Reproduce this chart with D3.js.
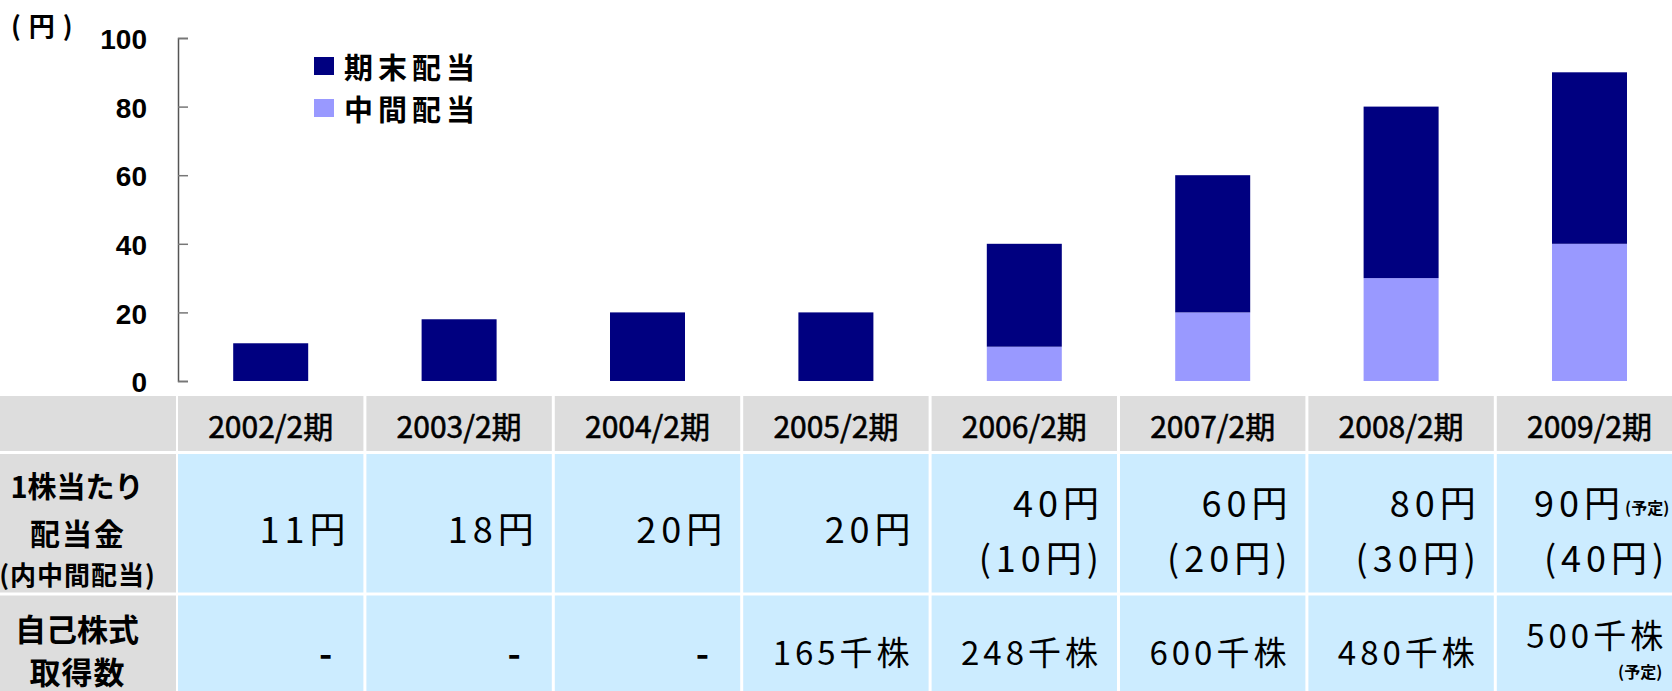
<!DOCTYPE html>
<html><head><meta charset="utf-8">
<script src="https://cdn.jsdelivr.net/npm/d3@7"></script>
<style>
html,body{margin:0;padding:0;background:#fff;overflow:hidden}
text{font-family:"Noto Sans CJK JP","Noto Sans",sans-serif;fill:#000}
</style></head>
<body>
<script>
// ---- data ----
const periods = ["2002/2期","2003/2期","2004/2期","2005/2期","2006/2期","2007/2期","2008/2期","2009/2期"];
const interimDividend = [0,0,0,0,10,20,30,40];
const yearEndDividend = [11,18,20,20,30,40,50,50];
const seriesNames = ["期末配当","中間配当"];
const yTicks = [0,20,40,60,80,100];
const unitLabel = "(円)";
const totalLabels = ["11円","18円","20円","20円","40円","60円","80円","90円"];
const interimLabels = ["","","","","(10円)","(20円)","(30円)","(40円)"];
const buybackLabels = ["-","-","-","165千株","248千株","600千株","480千株","500千株"];
const plannedFlags = [false,false,false,false,false,false,false,true];
const plannedNote = "(予定)";
const dividendRowLabel = ["1株当たり","配当金","(内中間配当)"];
const buybackRowLabel = ["自己株式","取得数"];

// ---- layout ----
const W = 1672, H = 691;
const colors = {yearEnd:"#000080", interim:"#9999FF", header:"#DDDDDD", cell:"#CCECFF"};
const svg = d3.select("body").append("svg").attr("width", W).attr("height", H);

const x = d3.scaleBand().domain(periods).range([178, 178 + 188.4 * periods.length]);
const y = d3.scaleLinear().domain([0, 100]).range([381, 38]);
const barW = 75;
const gap = 3;

// ---- bars ----
const rows = periods.map((p, i) => ({period: p, interim: interimDividend[i], yearEnd: yearEndDividend[i]}));
const stack = d3.stack().keys(["interim", "yearEnd"])(rows);
svg.append("g").selectAll("g").data(stack).join("g")
  .attr("fill", s => colors[s.key])
  .selectAll("rect").data(s => s).join("rect")
  .attr("x", d => x(d.data.period) + (x.bandwidth() - gap) / 2 - barW / 2)
  .attr("width", barW)
  .attr("y", d => y(d[1]))
  .attr("height", d => y(d[0]) - y(d[1]));

// ---- axis ----
const axis = d3.axisLeft(y).tickValues(yTicks).tickSizeInner(-10).tickSizeOuter(-10).tickPadding(31);
const ag = svg.append("g").attr("transform", `translate(178,0)`).call(axis);
ag.select(".domain").attr("stroke", "#555").attr("stroke-width", 1.5);
ag.selectAll(".tick line").attr("stroke", "#777").attr("stroke-width", 1.5);
ag.selectAll(".tick text")
  .style("font-family", '"Liberation Sans", Arial, sans-serif')
  .style("font-weight", "bold").style("font-size", "28px").attr("fill", "#000")
  .attr("dy", "0.38em");

svg.append("text").attr("x", 11).attr("y", 24).attr("dominant-baseline", "central")
  .style("font-size", "26px").style("font-weight", "bold").style("letter-spacing", "8px")
  .text(unitLabel);

// ---- legend ----
const legendKeys = ["yearEnd", "interim"];
const lg = svg.append("g").selectAll("g").data(legendKeys).join("g")
  .attr("transform", (d, i) => `translate(314,${66 + i * 42})`);
lg.append("rect").attr("x", 0).attr("y", -9).attr("width", 20).attr("height", 18).attr("fill", d => colors[d]);
lg.append("text").attr("x", 30).attr("y", 0).attr("dominant-baseline", "central")
  .style("font-size", "29px").style("font-weight", "bold").style("letter-spacing", "5px")
  .text((d, i) => seriesNames[i]);

// ---- table ----
const hdr = [396, 451], r2 = [454, 592.5], r3 = [595.5, H];
const tg = svg.append("g");
// label column
[[hdr, colors.header], [r2, colors.header], [r3, colors.header]].forEach(([r, c]) =>
  tg.append("rect").attr("x", 0).attr("y", r[0]).attr("width", 176).attr("height", r[1] - r[0]).attr("fill", c));
// data columns
periods.forEach(p => {
  tg.append("rect").attr("x", x(p)).attr("y", hdr[0]).attr("width", x.bandwidth() - gap).attr("height", hdr[1] - hdr[0]).attr("fill", colors.header);
  tg.append("rect").attr("x", x(p)).attr("y", r2[0]).attr("width", x.bandwidth() - gap).attr("height", r2[1] - r2[0]).attr("fill", colors.cell);
  tg.append("rect").attr("x", x(p)).attr("y", r3[0]).attr("width", x.bandwidth() - gap).attr("height", r3[1] - r3[0]).attr("fill", colors.cell);
});
// header labels
tg.selectAll("text.hdr").data(periods).join("text").attr("class", "hdr")
  .attr("x", p => x(p) + (x.bandwidth() - gap) / 2).attr("y", 425)
  .attr("text-anchor", "middle").attr("dominant-baseline", "central")
  .style("font-size", "30px").attr("stroke", "#000").attr("stroke-width", 0.6)
  .text(p => p);
// row labels
const labelSpecs = [
  {t: dividendRowLabel[0], y: 485, fs: 29, ls: 0},
  {t: dividendRowLabel[1], y: 532, fs: 30, ls: 2},
  {t: dividendRowLabel[2], y: 573, fs: 26, ls: 1},
  {t: buybackRowLabel[0], y: 627, fs: 31, ls: 0},
  {t: buybackRowLabel[1], y: 670, fs: 31, ls: 1}
];
labelSpecs.forEach(s => tg.append("text").attr("x", 77 + s.ls / 2).attr("y", s.y)
  .attr("text-anchor", "middle").attr("dominant-baseline", "central")
  .style("font-size", s.fs + "px").style("font-weight", "bold").style("letter-spacing", s.ls + "px").text(s.t));

// value cells
const colRight = p => x(p) + x.bandwidth() - gap;
periods.forEach((p, i) => {
  const two = interimLabels[i] !== "";
  const ls = 5;
  const t1 = tg.append("text").attr("x", colRight(p) - 18 + ls).attr("y", two ? 501 : 527)
    .attr("text-anchor", "end").attr("dominant-baseline", "central")
    .style("font-size", "36px").style("letter-spacing", ls + "px");
  t1.append("tspan").text(totalLabels[i]);
  if (plannedFlags[i]) {
    t1.append("tspan").attr("dy", 6).style("font-size", "16px").style("font-weight", "bold")
      .style("letter-spacing", "0px").text(plannedNote);
  }
  if (two) {
    tg.append("text").attr("x", colRight(p) - 18 + ls).attr("y", 556)
      .attr("text-anchor", "end").attr("dominant-baseline", "central")
      .style("font-size", "36px").style("letter-spacing", ls + "px").text(interimLabels[i]);
  }
  // buyback row
  const b = buybackLabels[i];
  if (b === "-") {
    tg.append("text").attr("x", colRight(p) - 31).attr("y", 651)
      .attr("text-anchor", "end").attr("dominant-baseline", "central")
      .style("font-size", "36px").style("font-weight", "bold").text(b);
  } else {
    const ls3 = 4;
    tg.append("text").attr("x", colRight(p) - 19 + ls3).attr("y", plannedFlags[i] ? 634 : 651)
      .attr("text-anchor", "end").attr("dominant-baseline", "central")
      .style("font-size", "33px").style("letter-spacing", ls3 + "px").text(b);
    if (plannedFlags[i]) {
      tg.append("text").attr("x", colRight(p) - 20).attr("y", 671)
        .attr("text-anchor", "end").attr("dominant-baseline", "central")
        .style("font-size", "16px").style("font-weight", "bold").text(plannedNote);
    }
  }
});
</script>
</body></html>
